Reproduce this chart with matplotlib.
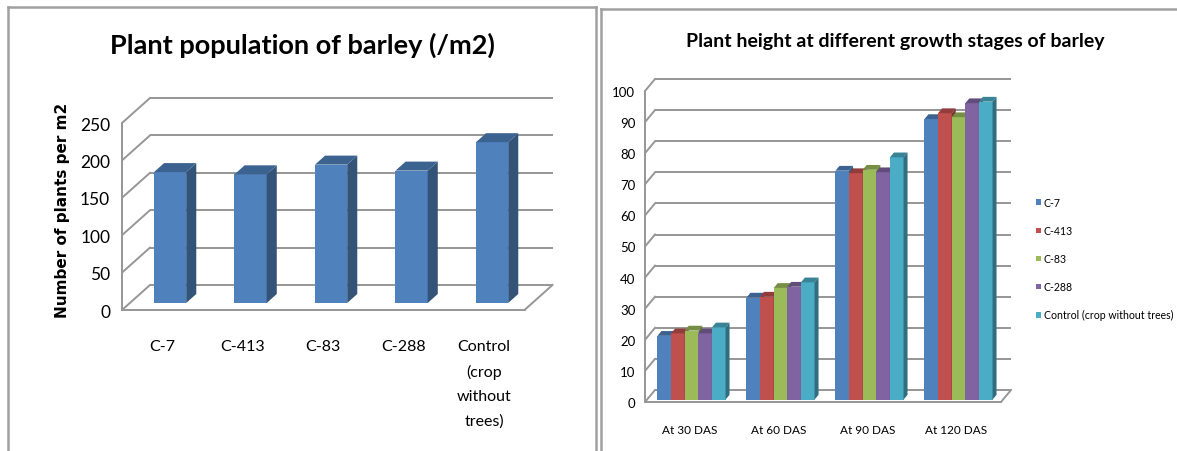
import matplotlib
matplotlib.use("Agg")
import matplotlib.pyplot as plt
import matplotlib.colors as mcolors
from matplotlib.patches import Polygon, Patch
from matplotlib.lines import Line2D
import numpy as np

# ---------------- data ----------------
pop_categories = ["C-7", "C-413", "C-83", "C-288", "Control\n(crop\nwithout\ntrees)"]
pop_values = [175, 172, 185, 177, 215]
pop_ticks = [0, 50, 100, 150, 200, 250]

stage_labels = ["At 30 DAS", "At 60 DAS", "At 90 DAS", "At 120 DAS"]
series_names = ["C-7", "C-413", "C-83", "C-288", "Control (crop without trees)"]
height_c7 = [20.5, 32.8, 73.6, 90.2]
height_c413 = [21.3, 33.1, 72.8, 92.1]
height_c83 = [22.2, 35.9, 73.9, 90.8]
height_c288 = [21.3, 36.3, 73.1, 95.3]
height_control = [23.2, 37.7, 77.9, 95.8]
height_ticks = list(range(0, 101, 10))

series_colors = ["#4F81BD", "#C0504D", "#9BBB59", "#8064A2", "#4BACC6"]

BODY = ["Lato", "DejaVu Sans"]
GRID = "#969696"

W, H = 1177, 452
fig = plt.figure(figsize=(W / 100, H / 100), dpi=100)


def shade(c, f):
    r, g, b = mcolors.to_rgb(c)
    return (r * f, g * f, b * f)


def axes_px(left, top, right, bottom):
    return fig.add_axes([left / W, 1 - bottom / H, (right - left) / W, (bottom - top) / H])


def draw_walls(ax, x0, x1, ticks, DX, DY):
    """Back wall gridlines, side-wall diagonals and floor of an oblique 3-D chart."""
    for t in ticks:
        ax.plot([x0 + DX, x1 + DX], [t + DY, t + DY], color=GRID, lw=1.4, zorder=1,
                solid_capstyle="butt")
        ax.plot([x0, x0 + DX], [t, t + DY], color=GRID, lw=1.4, zorder=1)
    ax.plot([x1, x1 + DX], [0, DY], color=GRID, lw=1.4, zorder=1)


def draw_bars(ax, xc, values, width, d0, d1, DX, DY, color, z):
    """Front faces via ax.bar, then the visible right side and top of each box."""
    base = d0 * DY
    shift = d0 * DX
    ax.bar(np.asarray(xc) + shift, values, width=width, bottom=base, color=color,
           edgecolor="none", zorder=z)
    ddx, ddy = (d1 - d0) * DX, (d1 - d0) * DY
    for x, v in zip(xc, values):
        xl = x + shift - width / 2
        xr = x + shift + width / 2
        yt = base + v
        side = Polygon([(xr, base), (xr + ddx, base + ddy), (xr + ddx, yt + ddy), (xr, yt)],
                       closed=True, facecolor=shade(color, 0.64), edgecolor="none", zorder=z)
        top = Polygon([(xl, yt), (xr, yt), (xr + ddx, yt + ddy), (xl + ddx, yt + ddy)],
                      closed=True, facecolor=shade(color, 0.76), edgecolor="none", zorder=z)
        ax.add_patch(side)
        ax.add_patch(top)


def style_axes(ax, ncat, ymax):
    for s in ["top", "right"]:
        ax.spines[s].set_visible(False)
    for s in ["left", "bottom"]:
        ax.spines[s].set_color(GRID)
        ax.spines[s].set_linewidth(1.4)
    ax.spines["left"].set_bounds(0, ymax)
    ax.spines["bottom"].set_bounds(-0.5, ncat - 0.5)
    ax.set_facecolor("none")


# ---------------- left chart: plant population ----------------
cat_px, val_px = 80.5, 0.748          # pixels per category / per unit
depth_px = (28, 25)                   # oblique offset of the back wall
axL = axes_px(122, 92, 558, 311)
axL.set_xlim(-0.5, -0.5 + (558 - 122) / cat_px)
axL.set_ylim(0, (311 - 92) / val_px)
DXL, DYL = depth_px[0] / cat_px, depth_px[1] / val_px
xL = np.arange(len(pop_values))
draw_walls(axL, -0.5, len(pop_values) - 0.5, pop_ticks, DXL, DYL)
draw_bars(axL, xL, pop_values, 0.40, 0.28, 0.64, DXL, DYL, series_colors[0], 3)
style_axes(axL, len(pop_values), pop_ticks[-1])
axL.set_yticks(pop_ticks)
axL.set_yticklabels([str(t) for t in pop_ticks], family=BODY, fontsize=12.5)
axL.set_xticks(xL)
axL.set_xticklabels(pop_categories, family=BODY, fontsize=11.5, va="top")
for lbl in axL.get_xticklabels():
    lbl.set_linespacing(1.9)
axL.tick_params(axis="y", length=0, pad=8.5)
axL.tick_params(axis="x", length=0, pad=21)
axL.set_ylabel("Number of plants per m2", family="DejaVu Sans", fontweight="bold",
               fontsize=11)
axL.yaxis.set_label_coords((70 - 122) / (558 - 122), (311 - 210) / (311 - 92))
fig.text(302 / W, 1 - 45 / H, "Plant population of barley (/m2)", family=BODY,
         fontweight="bold", fontsize=19.5, ha="center", va="center")

# ---------------- right chart: plant height ----------------
grp_px, hval_px = 89.0, 3.11
hdepth_px = (10, 12)
axR = axes_px(645, 76, 1016, 403)
axR.set_xlim(-0.5, -0.5 + (1016 - 645) / grp_px)
axR.set_ylim(0, (403 - 76) / hval_px)
DXR, DYR = hdepth_px[0] / grp_px, hdepth_px[1] / hval_px
xR = np.arange(len(stage_labels))
draw_walls(axR, -0.5, len(stage_labels) - 0.5, height_ticks, DXR, DYR)
series = [height_c7, height_c413, height_c83, height_c288, height_control]
bw = 0.153
for k, (vals, col) in enumerate(zip(series, series_colors)):
    offs = (k - (len(series) - 1) / 2) * bw
    draw_bars(axR, xR + offs, vals, bw, 0.2, 0.6, DXR, DYR, col, 3 + k)
style_axes(axR, len(stage_labels), height_ticks[-1])
axR.set_yticks(height_ticks)
axR.set_yticklabels([str(t) for t in height_ticks], family=BODY, fontsize=9.5)
axR.set_xticks(xR)
axR.set_xticklabels(stage_labels, family=BODY, fontsize=8.5)
axR.tick_params(axis="y", length=0, pad=7)
axR.tick_params(axis="x", length=0, pad=16)
fig.text(895 / W, 1 - 41 / H, "Plant height at different growth stages of barley",
         family=BODY, fontweight="bold", fontsize=14, ha="center", va="center")

handles = [Patch(facecolor=c, edgecolor="none") for c in series_colors]
fig.legend(handles, series_names, loc="upper left",
           bbox_to_anchor=(1036 / W, 1 - 198 / H), bbox_transform=fig.transFigure,
           frameon=False, prop={"family": BODY, "size": 7.6},
           handlelength=0.45, handleheight=0.45, handletextpad=0.3,
           labelspacing=1.62, borderpad=0, borderaxespad=0)

# ---------------- panel frames ----------------
frame = dict(color="#a0a0a0", lw=1.8, transform=None)
fig.add_artist(Line2D([7.5, 7.5], [0, H - 7.5], **frame))
fig.add_artist(Line2D([7.5, 595.5], [H - 7.5, H - 7.5], **frame))
fig.add_artist(Line2D([595.5, 595.5], [0, H - 7.5], **frame))
fig.add_artist(Line2D([600.5, 600.5], [0, H - 10], **frame))
fig.add_artist(Line2D([600.5, W], [H - 10, H - 10], **frame))

fig.savefig("out.png", dpi=100)
